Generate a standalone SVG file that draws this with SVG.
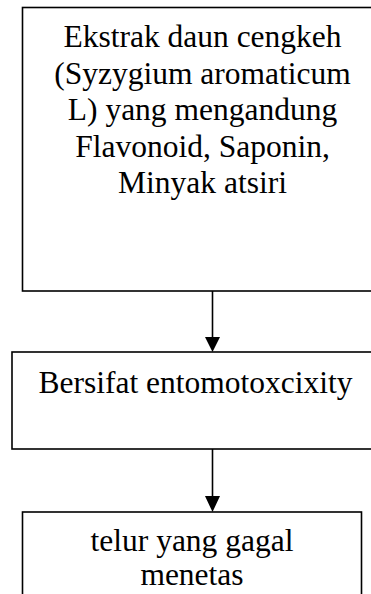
<svg xmlns="http://www.w3.org/2000/svg" width="371" height="594" viewBox="0 0 371 594">
<style>
.box{fill:#fff;stroke:#000;stroke-width:1.6}
.t{font-family:'Liberation Serif','Tinos','DejaVu Serif',serif;font-size:31.5px;fill:#000;text-anchor:middle}
.c{stroke:#000;stroke-width:1.6;fill:none}
.h{fill:#000}
</style>
<rect width="371" height="594" fill="#fff"/>
<g id="node1">
<rect class="box" x="22.5" y="7.5" width="360" height="283.5"/>
<text class="t" x="202.5" y="47">Ekstrak daun cengkeh</text>
<text class="t" x="202.5" y="83.5">(Syzygium aromaticum</text>
<text class="t" x="202.5" y="120">L) yang mengandung</text>
<text class="t" x="202.5" y="156.5">Flavonoid, Saponin,</text>
<text class="t" x="202.5" y="193">Minyak atsiri</text>
</g>
<g id="node2">
<rect class="box" x="12" y="352" width="368" height="97"/>
<text class="t" x="195.5" y="393">Bersifat entomotoxcixity</text>
</g>
<g id="node3">
<rect class="box" x="22.5" y="512" width="339" height="100"/>
<text class="t" x="192" y="551">telur yang gagal</text>
<text class="t" x="192" y="585">menetas</text>
</g>
<g id="connectors">
<line class="c" x1="212.5" y1="291" x2="212.5" y2="340"/>
<polygon class="h" points="205,337 220,337 212.5,352"/>
<line class="c" x1="212.5" y1="449" x2="212.5" y2="499"/>
<polygon class="h" points="205,496 220,496 212.5,512"/>
</g>
</svg>
